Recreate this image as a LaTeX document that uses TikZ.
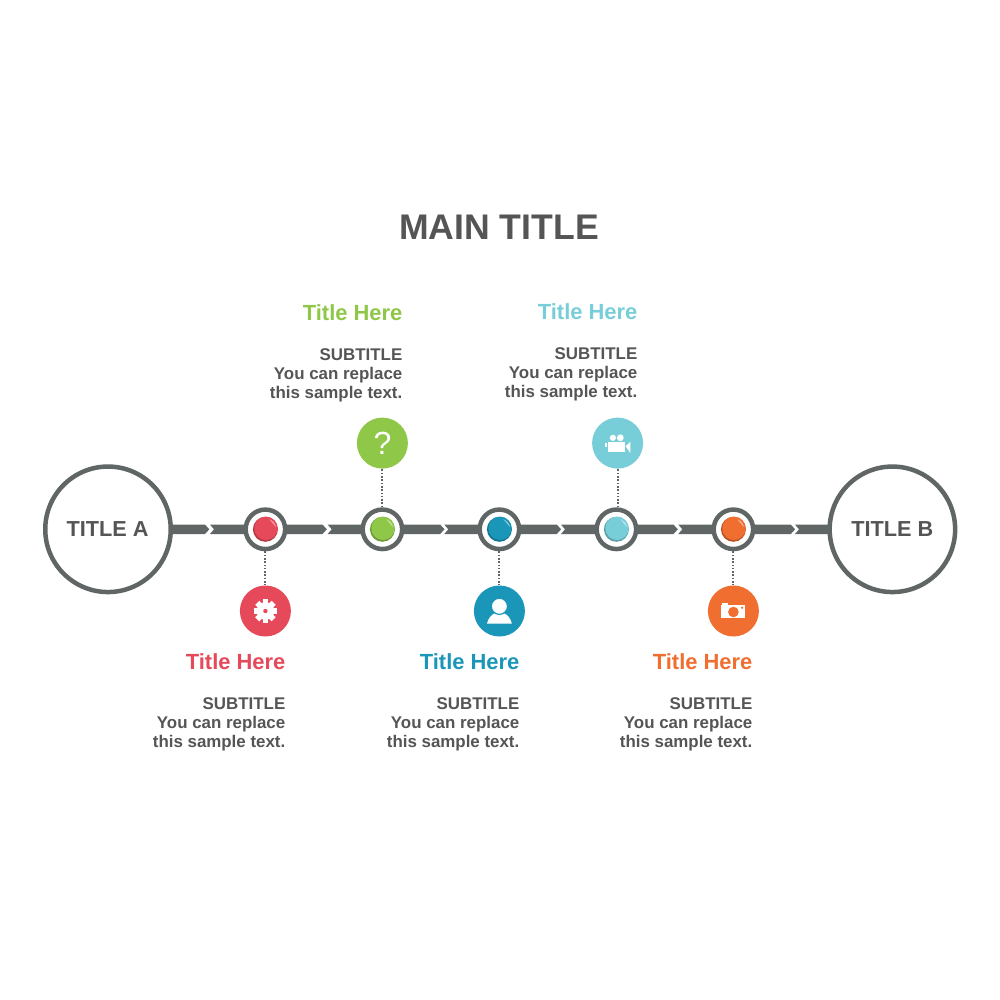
\documentclass[tikz,border=0pt]{standalone}
\usepackage{fontspec}
\setmainfont{Liberation Sans}
\usepackage{xcolor}
\usetikzlibrary{positioning}
\definecolor{barGray}{HTML}{5F6665}
\definecolor{textGray}{HTML}{555555}
\definecolor{tlRed}{HTML}{E64A5A}
\definecolor{tlGreen}{HTML}{8FC748}
\definecolor{tlBlue}{HTML}{1A96B9}
\definecolor{tlCyan}{HTML}{78CED8}
\definecolor{tlOrange}{HTML}{EF6E30}
\begin{document}
\begin{tikzpicture}[
  x=1pt, y=-1pt,
  hub/.style={circle, draw=barGray, fill=white, line width=4.5pt, minimum size=39.5pt, inner sep=0pt},
  endcap/.style={circle, draw=barGray, fill=white, line width=4.5pt, minimum size=125.5pt, inner sep=0pt, text=textGray, font=\fontsize{21.7}{26}\selectfont\bfseries},
  badge/.style={circle, minimum size=51pt, inner sep=0pt},
  ballnode/.style={circle, minimum size=25pt, inner sep=0pt},
  head/.style={anchor=south east, inner sep=0pt, font=\fontsize{21.9}{26}\selectfont\bfseries},
  blurb/.style={align=right, inner sep=0pt, text=textGray, font=\fontsize{16.9}{19}\selectfont\bfseries},
  link/.style={draw=barGray, line width=1.9pt, dash pattern=on 1.6pt off 1.7pt}
]
\useasboundingbox (0,0) rectangle (1000,1000);
\fill[white] (0,0) rectangle (1000,1000);
\node[text=textGray, font=\fontsize{35.6}{40}\selectfont\bfseries] (maintitle) at (499,227) {MAIN TITLE};

\fill[barGray] (165,524.6) -- (205,524.6) -- (209.3,529.3) -- (205,534) -- (165,534) -- cycle;
\foreach \s in {210,327.7,444.3,561,678.3} {
  \fill[barGray] (\s,524.6) -- (\s+112.5,524.6) -- (\s+116.8,529.3) -- (\s+112.5,534) -- (\s,534) -- (\s+4,529.3) -- cycle;
}
\fill[barGray] (795,524.6) -- (835,524.6) -- (835,534) -- (795,534) -- (799,529.3) -- cycle;

\node[hub] (hubred) at (265.4,529.3) {};
\node[hub, right=73pt of hubred] (hubgreen) {};
\node[hub, right=73pt of hubgreen] (hubblue) {};
\node[hub, right=73pt of hubblue] (hubcyan) {};
\node[hub, right=73pt of hubcyan] (huborange) {};
\node[endcap, left=70.4pt of hubred] (titlea) {\hspace{-1pt}TITLE A};
\node[endcap, right=72pt of huborange] (titleb) {TITLE B};

\foreach \n/\c in {red/tlRed, green/tlGreen, blue/tlBlue, cyan/tlCyan, orange/tlOrange} {
  \node[ballnode, fill=\c!78!black] (ball\n) at (hub\n) {};
  \fill[\c] ([xshift=0.6pt, yshift=1pt]ball\n.center) circle (11.7);
  \fill[white, opacity=0.5] ([shift={(68:10.8pt)}]ball\n.center) arc[start angle=68, end angle=12, radius=10.8pt] .. controls ([shift={(40:9.4pt)}]ball\n.center) .. cycle;
}

\node[badge, fill=tlRed, below=34pt of hubred] (iconred) {};
\node[badge, fill=tlGreen, above=38.5pt of hubgreen] (icongreen) {};
\node[badge, fill=tlBlue, below=34pt of hubblue] (iconblue) {};
\node[badge, fill=tlCyan, above=38.5pt of hubcyan, xshift=1.2pt] (iconcyan) {};
\node[badge, fill=tlOrange, below=34pt of huborange] (iconorange) {};

\draw[link] (hubred) -- (iconred);
\draw[link] (hubgreen) -- (icongreen);
\draw[link] (hubblue) -- (iconblue);
\draw[link] (hubcyan.north -| iconcyan) -- (iconcyan);
\draw[link] (huborange) -- (iconorange);

\begin{scope}[shift={(iconred.center)}]
  \foreach \a in {0,45,...,315} {
    \fill[white, rotate=\a] (-2.9,6) rectangle (2.9,11.6);
  }
  \fill[white] (0,0) circle (8.8);
  \fill[tlRed] (0,0) circle (2.2);
\end{scope}

\node[text=white, font=\fontsize{32}{36}\selectfont] (qmark) at (icongreen) {?};

\begin{scope}[shift={(iconblue.center)}]
  \fill[white] (-12.5,12.7) .. controls (-11,7) and (-8,3.5) .. (-4,2) -- (4,2) .. controls (8,3.5) and (11,7) .. (12.5,12.7) -- cycle;
  \filldraw[white, draw=tlBlue, line width=1.2pt] (0,-4.7) circle (8.1);
\end{scope}

\begin{scope}[shift={(iconcyan.center)}]
  \fill[white] (-10,-1.3) rectangle (7,8.5);
  \fill[white] (-4.7,-5.3) circle (3.1);
  \fill[white] (2.7,-5.3) circle (3.4);
  \fill[white] (-12.3,0) rectangle (-10.7,4.3);
  \fill[white] (8,3.2) -- (12.7,-1.3) -- (12.7,9.7) -- cycle;
\end{scope}

\begin{scope}[shift={(iconorange.center)}]
  \fill[white] (-12.3,-6) rectangle (11.3,7.3);
  \fill[white] (-11.3,-8) rectangle (-5.3,-5.5);
  \fill[tlOrange] (0,1) circle (5.3);
  \fill[tlOrange] (8.7,-3.2) circle (1.3);
\end{scope}

\node[head, text=tlRed] (headred) at (285.5,670) {Title Here};
\node[head, text=tlGreen] (headgreen) at (402.5,321) {Title Here};
\node[head, text=tlBlue] (headblue) at (519.5,670) {Title Here};
\node[head, text=tlCyan] (headcyan) at (637.5,320) {Title Here};
\node[head, text=tlOrange] (headorange) at (752.5,670) {Title Here};

\node[blurb, below=27.5pt of headred.south east, anchor=north east] (textred) {SUBTITLE\\You can replace\\this sample text.};
\node[blurb, below=27.5pt of headgreen.south east, anchor=north east] (textgreen) {SUBTITLE\\You can replace\\this sample text.};
\node[blurb, below=27.5pt of headblue.south east, anchor=north east] (textblue) {SUBTITLE\\You can replace\\this sample text.};
\node[blurb, below=27.5pt of headcyan.south east, anchor=north east] (textcyan) {SUBTITLE\\You can replace\\this sample text.};
\node[blurb, below=27.5pt of headorange.south east, anchor=north east] (textorange) {SUBTITLE\\You can replace\\this sample text.};
\end{tikzpicture}
\end{document}
